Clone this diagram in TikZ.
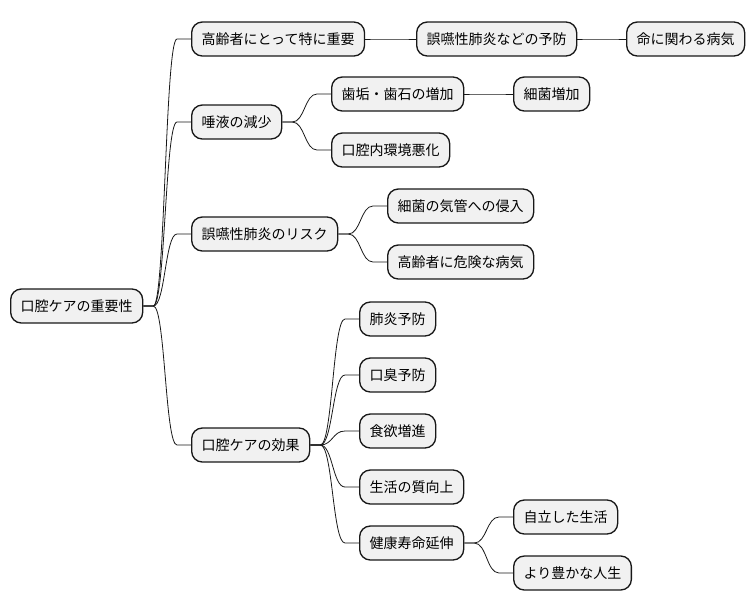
\documentclass[tikz,border=0pt]{standalone}
\usepackage{fontspec}
\setmainfont{Noto Sans CJK JP}
\usepackage{xcolor}
\usetikzlibrary{calc}
\definecolor{boxfill}{HTML}{F1F1F1}
\definecolor{boxline}{HTML}{181818}
\tikzset{
    topic/.style={draw=boxline, fill=boxfill, line width=1pt, rounded corners=8pt,
        anchor=west, inner xsep=7.5pt, inner ysep=0pt, minimum height=25.5pt,
        font=\fontsize{10.5}{12}\selectfont},
    link/.style={draw=boxline, line width=0.6pt}
}

\begin{document}
\begin{tikzpicture}[x=0.75pt,y=-0.75pt]
    \useasboundingbox (0,0) rectangle (754,612);
    \node[topic] (root) at (10,306) {口腔ケアの重要性};
    \node[topic] (elderly) at (191,39) {高齢者にとって特に重要};
    \node[topic] (aspiration) at (416,39) {誤嚥性肺炎などの予防};
    \node[topic] (fatal) at (626,39) {命に関わる病気};
    \node[topic] (saliva) at (191,122) {唾液の減少};
    \node[topic] (plaque) at (331,94) {歯垢・歯石の増加};
    \node[topic] (bacteria) at (513,94) {細菌増加};
    \node[topic] (environment) at (331,150) {口腔内環境悪化};
    \node[topic] (risk) at (191,234) {誤嚥性肺炎のリスク};
    \node[topic] (invasion) at (387,206) {細菌の気管への侵入};
    \node[topic] (danger) at (387,262) {高齢者に危険な病気};
    \node[topic] (effect) at (191,445) {口腔ケアの効果};
    \node[topic] (pneumonia) at (359,319) {肺炎予防};
    \node[topic] (breath) at (359,375) {口臭予防};
    \node[topic] (appetite) at (359,431) {食欲増進};
    \node[topic] (quality) at (359,487) {生活の質向上};
    \node[topic] (lifespan) at (359,543) {健康寿命延伸};
    \node[topic] (independence) at (513,517) {自立した生活};
    \node[topic] (richlife) at (513,573) {より豊かな人生};
    \foreach \a/\b in {root/elderly, root/saliva, root/risk, root/effect,
        elderly/aspiration, aspiration/fatal,
        saliva/plaque, saliva/environment, plaque/bacteria,
        risk/invasion, risk/danger,
        effect/pneumonia, effect/breath, effect/appetite, effect/quality, effect/lifespan,
        lifespan/independence, lifespan/richlife}{
        \coordinate (p) at ($(\a.east)+(10,0)$);
        \coordinate (q) at ($(\b.west)+(-14,0)$);
        \coordinate (m) at ($(p)!0.5!(q)$);
        \draw[link] (\a.east) -- (p) .. controls (m |- p) and (m |- q) .. (q) -- (\b.west);
    }
\end{tikzpicture}
\end{document}
